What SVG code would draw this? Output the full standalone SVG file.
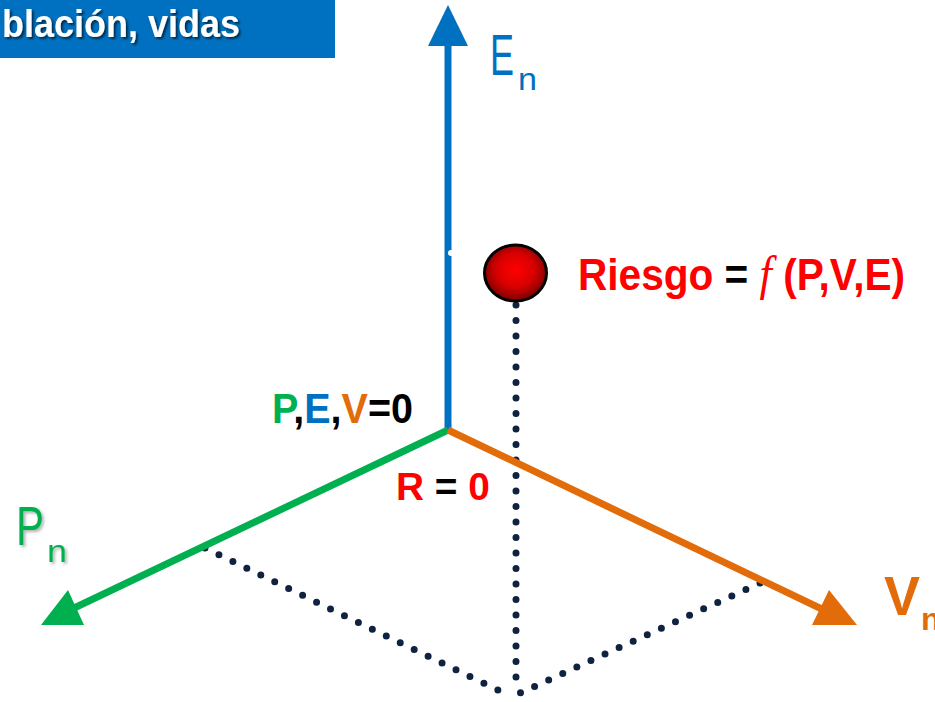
<svg xmlns="http://www.w3.org/2000/svg" width="935" height="702" viewBox="0 0 935 702">
<style>
.t{font-family:"Liberation Sans","Open Sans",Arial,sans-serif}
.b{font-weight:bold}
.dot{fill:none;stroke:#0f2340;stroke-width:7;stroke-linecap:round;stroke-dasharray:0 15.5}
.red{fill:#ff0000}.blk{fill:#000}.grn{fill:#00b050}.blu{fill:#0070c0}.org{fill:#e36c0a}
</style>
<defs>
<radialGradient id="ball" cx="0.5" cy="0.45" r="0.55">
<stop offset="0" stop-color="#ff0000"/>
<stop offset="0.55" stop-color="#d80000"/>
<stop offset="1" stop-color="#7a0000"/>
</radialGradient>
<filter id="sh" x="-10%" y="-10%" width="130%" height="140%">
<feDropShadow dx="2" dy="2" stdDeviation="1.2" flood-color="#000" flood-opacity="0.6"/>
</filter>
<filter id="sh2" x="-10%" y="-10%" width="130%" height="140%">
<feDropShadow dx="2" dy="2" stdDeviation="1.5" flood-color="#000" flood-opacity="0.3"/>
</filter>
</defs>
<rect width="935" height="702" fill="#fff"/>
<g id="title">
<rect x="0" y="0" width="335" height="58" fill="#0070c0"/>
<text class="t b" x="2" y="37" font-size="38" fill="#fff" filter="url(#sh)" textLength="238" lengthAdjust="spacingAndGlyphs">blación, vidas</text>
</g>
<g id="connectors">
<line class="dot" x1="516" y1="305" x2="516" y2="692"/>
<line class="dot" x1="205" y1="548" x2="510" y2="696"/>
<line class="dot" x1="760" y1="583" x2="518" y2="694"/>
<line x1="448" y1="432" x2="448" y2="40" stroke="#0070c0" stroke-width="7"/>
<polygon points="448,5 428,46 468,46" fill="#0070c0"/>
<line x1="448" y1="430" x2="72" y2="609" stroke="#00b050" stroke-width="7"/>
<polygon points="41,625 68,590 84,625" fill="#00b050"/>
<line x1="448" y1="430" x2="828" y2="612" stroke="#e36c0a" stroke-width="7"/>
<polygon points="857,625 829,590 812,625" fill="#e36c0a"/>
<circle cx="451" cy="253" r="3" fill="#fff"/>
</g>
<g id="axis-E">
<text class="t blu" x="490" y="75" font-size="58"><tspan textLength="24" lengthAdjust="spacingAndGlyphs">E</tspan><tspan x="518" y="90" font-size="32" textLength="19" lengthAdjust="spacingAndGlyphs">n</tspan></text>
</g>
<g id="axis-P">
<text class="t grn" x="16" y="545" font-size="56" filter="url(#sh2)"><tspan textLength="28" lengthAdjust="spacingAndGlyphs">P</tspan><tspan x="47" y="562" font-size="32" textLength="20" lengthAdjust="spacingAndGlyphs">n</tspan></text>
</g>
<g id="axis-V">
<text class="t b org" x="884" y="615" font-size="56"><tspan textLength="36" lengthAdjust="spacingAndGlyphs">V</tspan><tspan x="921" y="630" font-size="32">n</tspan></text>
</g>
<g id="risk">
<ellipse cx="515.5" cy="273" rx="31" ry="28" fill="url(#ball)" stroke="#000" stroke-width="3"/>
<text class="t b" x="578" y="290" font-size="44" textLength="327" lengthAdjust="spacingAndGlyphs"><tspan class="red">Riesgo</tspan><tspan class="blk"> = </tspan><tspan class="red" font-family="'Liberation Serif',serif" font-style="italic" font-weight="normal" font-size="48">f</tspan><tspan class="red"> (P,V,E)</tspan></text>
</g>
<g id="origin">
<text class="t b" x="272" y="423" font-size="42" textLength="141" lengthAdjust="spacingAndGlyphs"><tspan class="grn">P</tspan><tspan class="blk">,</tspan><tspan class="blu">E</tspan><tspan class="blk">,</tspan><tspan class="org">V</tspan><tspan class="blk">=0</tspan></text>
<text class="t b" x="396" y="500" font-size="39" textLength="94" lengthAdjust="spacingAndGlyphs"><tspan class="red">R</tspan><tspan class="blk"> = </tspan><tspan class="red">0</tspan></text>
</g>
</svg>
